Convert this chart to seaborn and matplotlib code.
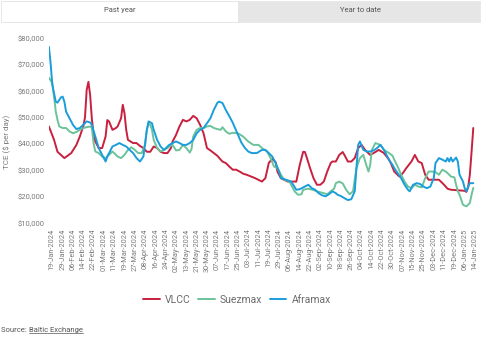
import matplotlib
matplotlib.use("Agg")
import matplotlib.pyplot as plt
import seaborn as sns
import pandas as pd
from matplotlib.patches import Rectangle
from matplotlib.lines import Line2D

# ---------------- data ----------------
tick_labels = [
    "19-Jan-2024", "29-Jan-2024", "06-Feb-2024", "14-Feb-2024", "22-Feb-2024",
    "01-Mar-2024", "11-Mar-2024", "19-Mar-2024", "27-Mar-2024", "08-Apr-2024",
    "16-Apr-2024", "24-Apr-2024", "02-May-2024", "13-May-2024", "21-May-2024",
    "30-May-2024", "07-Jun-2024", "17-Jun-2024", "25-Jun-2024", "03-Jul-2024",
    "11-Jul-2024", "19-Jul-2024", "29-Jul-2024", "06-Aug-2024", "14-Aug-2024",
    "22-Aug-2024", "02-Sep-2024", "10-Sep-2024", "18-Sep-2024", "26-Sep-2024",
    "04-Oct-2024", "14-Oct-2024", "22-Oct-2024", "30-Oct-2024", "07-Nov-2024",
    "15-Nov-2024", "25-Nov-2024", "03-Dec-2024", "11-Dec-2024", "19-Dec-2024",
    "06-Jan-2025", "14-Jan-2025",
]
tick_pos = [2 + 6 * i for i in range(len(tick_labels))]

y_ticks = [10000, 20000, 30000, 40000, 50000, 60000, 70000, 80000]
y_tick_labels = ["$10,000", "$20,000", "$30,000", "$40,000",
                 "$50,000", "$60,000", "$70,000", "$80,000"]

series_names = ["VLCC", "Suezmax", "Aframax"]
series_colors = ["#c8203f", "#6cc39a", "#1a9ddb"]

# day index (trading-day position) and value in $ thousand
vlcc_day = [0, 3, 5, 7, 9, 13, 16, 18, 20, 21, 22, 23, 24, 25, 26, 27, 29, 31, 33, 34,
            35, 37, 39, 40, 42, 43, 44, 45, 46, 49, 51, 53, 55, 57, 59, 61, 63, 65, 67, 69,
            71, 72, 74, 76, 78, 80, 82, 84, 86, 88, 90, 92, 94, 96, 98, 100, 101, 103, 105, 107,
            109, 111, 113, 115, 117, 120, 124, 126, 128, 130, 132, 133, 135, 139, 144, 146, 148, 149, 150, 152,
            154, 156, 158, 160, 162, 164, 165, 167, 169, 171, 172, 174, 176, 178, 180, 182, 184, 187, 189, 192,
            195, 198, 199, 201, 204, 206, 208, 211, 213, 215, 217, 219, 221, 227, 230, 232, 234, 240, 242, 243,
            244, 245, 246, 247]
vlcc_val = [46.6, 41.5, 37.0, 35.8, 34.6, 36.5, 39.6, 42.8, 46.6, 50.0, 60.5, 63.5, 58.5, 49.5, 43.5, 40.9, 38.4, 38.4, 42.8, 49.0,
            48.5, 45.3, 46.0, 46.6, 49.7, 54.8, 51.6, 45.3, 41.5, 40.3, 40.3, 39.2, 38.4, 37.0, 37.0, 39.0, 38.4, 37.0, 36.5, 36.5,
            38.4, 40.9, 43.4, 46.6, 49.1, 48.5, 49.1, 50.6, 49.7, 47.2, 44.0, 38.4, 37.5, 36.5, 35.5, 34.0, 33.3, 32.7, 31.4, 30.2,
            30.2, 29.5, 28.7, 28.3, 27.8, 27.0, 25.7, 27.0, 32.8, 34.3, 33.0, 29.5, 27.0, 25.7, 25.7, 32.0, 37.0, 36.9, 35.0, 30.8,
            27.0, 24.5, 24.5, 25.7, 29.5, 32.7, 33.3, 33.3, 35.8, 36.9, 35.8, 33.3, 33.3, 34.6, 38.4, 39.6, 37.7, 35.8, 36.5, 37.7,
            36.5, 34.0, 32.7, 29.5, 27.6, 28.9, 30.8, 33.3, 35.8, 33.3, 32.7, 28.3, 26.4, 26.4, 24.5, 23.0, 22.6, 22.3, 22.2, 21.8,
            23.5, 28.3, 37.0, 46.0]

suez_day = [0, 2, 3, 4, 5, 6, 8, 10, 12, 14, 16, 18, 20, 22, 24, 25, 26, 27, 29, 31,
            33, 35, 37, 38, 40, 42, 44, 46, 48, 50, 52, 54, 56, 57, 58, 59, 60, 61, 63, 65,
            67, 69, 70, 72, 74, 76, 78, 80, 82, 83, 84, 86, 88, 90, 92, 94, 96, 98, 100, 101,
            103, 105, 107, 110, 113, 116, 119, 122, 124, 127, 129, 131, 133, 135, 137, 140, 143, 145, 147, 148,
            151, 154, 156, 160, 162, 164, 166, 167, 169, 171, 173, 175, 177, 179, 181, 183, 185, 186, 187, 188,
            190, 193, 195, 198, 200, 201, 203, 205, 207, 209, 211, 213, 215, 217, 219, 221, 223, 225, 227, 229,
            231, 233, 234, 236, 237, 238, 239, 241, 243, 245, 246, 247]
suez_val = [65.1, 63.0, 57.9, 52.2, 49.1, 46.6, 46.0, 46.0, 44.7, 44.0, 44.5, 45.3, 46.0, 46.3, 46.6, 46.0, 40.3, 37.1, 36.5, 35.2,
            34.6, 35.8, 37.1, 36.5, 35.2, 34.6, 35.8, 37.7, 38.7, 37.7, 36.5, 36.5, 39.6, 45.3, 47.6, 47.2, 45.3, 41.5, 38.4, 37.1,
            37.7, 38.4, 39.0, 39.6, 37.5, 37.7, 39.6, 38.4, 36.7, 38.0, 42.8, 45.3, 46.0, 46.0, 46.6, 46.8, 46.0, 45.6, 45.3, 46.3,
            44.7, 43.8, 44.2, 44.0, 42.8, 40.9, 39.6, 39.6, 38.4, 37.1, 34.6, 31.4, 30.8, 28.3, 26.4, 25.7, 22.0, 20.7, 20.9, 22.6,
            23.0, 22.5, 22.0, 21.3, 20.9, 22.0, 23.0, 25.1, 25.7, 25.0, 22.6, 20.9, 22.0, 30.8, 34.6, 35.8, 31.4, 29.5, 32.0, 37.7,
            40.3, 39.6, 37.7, 36.5, 35.5, 34.0, 31.4, 28.3, 25.7, 23.8, 23.2, 24.5, 23.8, 23.5, 27.0, 29.5, 29.5, 29.3, 28.3, 30.2,
            29.5, 28.3, 27.6, 27.3, 24.5, 22.0, 20.7, 16.9, 16.3, 17.6, 20.7, 23.3]

afra_day = [0, 1, 2, 4, 5, 7, 8, 9, 10, 12, 14, 16, 18, 20, 22, 24, 25, 27, 29, 31,
            33, 34, 36, 37, 39, 41, 43, 45, 47, 49, 51, 53, 55, 56, 57, 58, 60, 61, 63, 65,
            67, 69, 70, 72, 74, 76, 78, 80, 82, 84, 86, 88, 90, 92, 94, 96, 98, 99, 101, 103,
            105, 107, 108, 110, 112, 114, 116, 118, 121, 124, 126, 128, 130, 132, 134, 135, 138, 141, 144, 146,
            149, 151, 153, 155, 157, 159, 161, 163, 165, 167, 168, 170, 172, 174, 176, 178, 179, 180, 181, 183,
            185, 187, 189, 191, 193, 195, 197, 198, 200, 201, 203, 205, 207, 209, 210, 212, 214, 216, 218, 220,
            222, 224, 225, 227, 229, 231, 232, 233, 234, 235, 237, 238, 239, 241, 242, 243, 244, 245, 247]
afra_val = [76.8, 70.5, 62.3, 56.0, 55.6, 57.6, 57.9, 56.0, 52.2, 49.7, 47.2, 45.6, 46.0, 47.2, 48.5, 48.1, 47.2, 42.8, 38.4, 35.8,
            33.3, 35.2, 37.7, 39.0, 39.6, 40.3, 39.6, 39.0, 37.7, 36.5, 34.6, 33.3, 35.2, 40.3, 45.3, 48.5, 47.8, 45.3, 41.5, 39.0,
            37.7, 39.0, 39.6, 40.3, 40.9, 40.3, 39.6, 39.6, 40.3, 41.5, 44.0, 45.3, 46.0, 47.8, 49.7, 52.9, 55.5, 56.0, 55.5, 52.8,
            50.5, 48.0, 46.5, 43.6, 40.5, 38.5, 37.1, 36.5, 36.5, 37.7, 37.7, 36.5, 35.2, 32.7, 29.5, 27.0, 26.4, 25.7, 22.6, 22.8,
            23.8, 24.5, 23.2, 22.6, 21.3, 20.5, 20.1, 20.9, 22.0, 21.3, 20.7, 20.2, 19.4, 18.7, 19.0, 22.0, 30.8, 39.6, 40.9, 37.7,
            37.1, 37.1, 37.5, 38.4, 39.6, 37.7, 35.2, 33.8, 32.0, 30.8, 28.9, 27.0, 24.5, 22.6, 22.0, 24.5, 25.1, 24.8, 23.8, 23.2,
            23.8, 27.0, 32.7, 34.6, 34.0, 33.3, 34.6, 33.3, 34.8, 33.3, 34.8, 33.3, 28.3, 25.7, 23.2, 22.0, 23.8, 25.1, 25.1]

# ---------------- build table ----------------
frames = []
for name, days, vals in [("VLCC", vlcc_day, vlcc_val),
                         ("Suezmax", suez_day, suez_val),
                         ("Aframax", afra_day, afra_val)]:
    frames.append(pd.DataFrame({"day": days,
                                "TCE": [v * 1000 for v in vals],
                                "Vessel": name}))
df = pd.concat(frames, ignore_index=True)

# ---------------- style ----------------
sns.set_theme(style="white")
plt.rcParams["font.family"] = ["Roboto", "DejaVu Sans"]

W, H = 500, 337
fig = plt.figure(figsize=(W / 100, H / 100), dpi=100)
fig.patch.set_facecolor("white")

def fx(px):
    return px / W

def fy(py):
    return 1 - py / H

ax_left, ax_right, ax_top, ax_bottom = 48.9, 475.0, 38.3, 223.0
ax = fig.add_axes([fx(ax_left), fy(ax_bottom), fx(ax_right - ax_left), (ax_bottom - ax_top) / H])
ax.set_facecolor("white")

sns.lineplot(data=df, x="day", y="TCE", hue="Vessel", hue_order=series_names,
             palette=series_colors, linewidth=1.4, ax=ax, legend=True)

ax.set_xlim(0, 248)
ax.set_ylim(10000, 80000)
ax.set_xticks(tick_pos)
ax.set_xticklabels(tick_labels, rotation=90, fontsize=5.3, color="#7a7a7a")
ax.set_yticks(y_ticks)
ax.set_yticklabels(y_tick_labels, fontsize=5.5, color="#7a7a7a")
ax.tick_params(axis="both", length=0)
ax.tick_params(axis="x", pad=4)
ax.tick_params(axis="y", pad=3)
ax.set_xlabel("")
ax.set_ylabel("")
ax.grid(False)
for s in ax.spines.values():
    s.set_visible(False)

fig.text(fx(7), fy(142), "TCE ($ per day)", rotation=90, ha="center", va="center",
         fontsize=5.8, color="#7a7a7a")

# legend
handles, labels = ax.get_legend_handles_labels()
ax.legend(handles, labels, loc="center", bbox_to_anchor=(fx(237), fy(300)),
          bbox_transform=fig.transFigure, ncol=3, frameon=False, fontsize=7.5,
          labelcolor="#6b6b6b", handlelength=1.6, handletextpad=0.5, columnspacing=0.7)

# tabs at top
fig.patches.append(Rectangle((fx(238), fy(22)), fx(480 - 238), (22 - 1) / H,
                             transform=fig.transFigure, facecolor="#e6e6e6",
                             edgecolor="#e6e6e6", linewidth=0.5))
fig.patches.append(Rectangle((fx(0.5), fy(22)), fx(237.5), (22 - 1) / H,
                             transform=fig.transFigure, facecolor="white",
                             edgecolor="#e2e2e2", linewidth=0.6))
fig.text(fx(120), fy(10), "Past year", ha="center", va="center", fontsize=5.5, color="#555555")
fig.text(fx(360), fy(10), "Year to date", ha="center", va="center", fontsize=5.5, color="#555555")

# source
t1 = fig.text(fx(1), fy(330), "Source: ", ha="left", va="center", fontsize=5.5, color="#555555")
fig.canvas.draw()
r = fig.canvas.get_renderer()
bb = t1.get_window_extent(renderer=r)
t2 = fig.text(bb.x1 / W, fy(330), "Baltic Exchange", ha="left", va="center",
              fontsize=5.5, color="#555555")
fig.canvas.draw()
bb2 = t2.get_window_extent(renderer=r)
uy = bb2.y0 + 0.5
fig.add_artist(Line2D([bb2.x0 / W, bb2.x1 / W], [uy / H, uy / H],
                      transform=fig.transFigure, color="#555555", linewidth=0.5))

fig.savefig("out.png", dpi=100, facecolor="white")
